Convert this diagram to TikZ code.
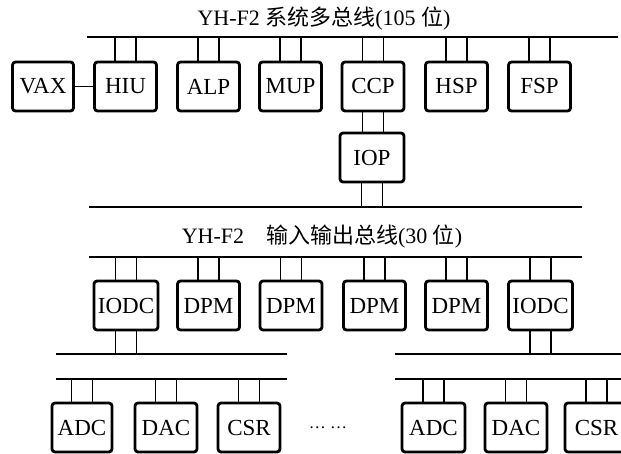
\documentclass[tikz,border=0pt]{standalone}
\usepackage{fontspec}
\setmainfont{Liberation Serif}
\newfontfamily\cjk{Noto Sans CJK SC}
\begin{document}
\begin{tikzpicture}[x=1pt,y=-1pt,
  unit/.style={draw, line width=2.8pt, rounded corners=3pt, minimum width=62pt, minimum height=49pt, inner sep=0pt, font=\fontsize{23}{26}\selectfont},
  busline/.style={line width=1.8pt},
  stub/.style={line width=1.8pt},
  ttl/.style={font=\fontsize{22}{26}\selectfont, inner sep=0pt}]
\useasboundingbox (0,0) rectangle (621,454);
% titles
\node[ttl] (t1) at (324,19) {YH-F2 {\cjk 系统多总线}(105 {\cjk 位})};
\node[ttl] (t2) at (322,237) {YH-F2\quad{\cjk 输入输出总线}(30 {\cjk 位})};
% bus coordinates
\coordinate (b1l) at (87,37);  \coordinate (b1r) at (618,37);
\coordinate (b2l) at (89,207); \coordinate (b2r) at (582,207);
\coordinate (b3l) at (89,257); \coordinate (b3r) at (582,257);
\coordinate (b4l) at (56,354); \coordinate (b4r) at (287,354);
\coordinate (b5l) at (56,379); \coordinate (b5r) at (287,379);
\coordinate (b6l) at (395,354); \coordinate (b6r) at (621,354);
\coordinate (b7l) at (395,379); \coordinate (b7r) at (621,379);
\foreach \a/\b in {b1l/b1r,b2l/b2r,b3l/b3r,b4l/b4r,b5l/b5r,b6l/b6r,b7l/b7r}
  \draw[busline] (\a) -- (\b);
% top row
\node[unit, minimum width=61pt] (vax) at (43,86.5) {VAX};
\node[unit] (hiu) at (125.5,86.5) {HIU};
\node[unit] (alp) at (208.5,86.5) {ALP};
\node[unit] (mup) at (290.5,86.5) {MUP};
\node[unit] (ccp) at (373,86.5) {CCP};
\node[unit] (hsp) at (456.5,86.5) {HSP};
\node[unit] (fsp) at (539.5,86.5) {FSP};
\node[unit, minimum width=64pt] (iop) at (372,157.5) {IOP};
% second row
\node[unit, minimum width=64pt] (iodca) at (126,305.5) {IODC};
\node[unit] (dpma) at (208.5,305.5) {DPM};
\node[unit] (dpmb) at (291,305.5) {DPM};
\node[unit] (dpmc) at (374.5,305.5) {DPM};
\node[unit] (dpmd) at (456.5,305.5) {DPM};
\node[unit, minimum width=64pt] (iodcb) at (540.5,305.5) {IODC};
% third row
\node[unit, minimum width=60pt] (adca) at (82,427.5) {ADC};
\node[unit] (daca) at (166,427.5) {DAC};
\node[unit] (csra) at (249,427.5) {CSR};
\node[unit, minimum width=63pt] (adcb) at (433.5,427.5) {ADC};
\node[unit] (dacb) at (516,427.5) {DAC};
\node[unit, minimum width=63pt] (csrb) at (596.5,427.5) {CSR};
\node[font=\fontsize{17}{18}\selectfont, inner sep=0pt] (dots) at (328,428) {\dots\ \dots};
% connectors
\draw[stub] (vax.east) -- (hiu.west);
\foreach \n in {hiu,alp,mup,ccp,hsp,fsp}
  \foreach \s in {-10.5,10.5}
    \draw[stub] ([xshift=\s pt]\n.north) -- ([xshift=\s pt]\n.north |- b1l);
\foreach \s in {-10.5,10.5} {
  \draw[stub] ([xshift=\s pt]ccp.south) -- ([xshift=\s pt]ccp.south |- iop.north);
  \draw[stub] ([xshift=\s pt]iop.south) -- ([xshift=\s pt]iop.south |- b2l);
  \draw[stub] ([xshift=\s pt]iodca.south) -- ([xshift=\s pt]iodca.south |- b4l);
  \draw[stub] ([xshift=\s pt]iodcb.south) -- ([xshift=\s pt]iodcb.south |- b6l);
}
\foreach \n in {iodca,dpma,dpmb,dpmc,dpmd,iodcb}
  \foreach \s in {-10.5,10.5}
    \draw[stub] ([xshift=\s pt]\n.north) -- ([xshift=\s pt]\n.north |- b3l);
\foreach \n in {adca,daca,csra}
  \foreach \s in {-10.5,10.5}
    \draw[stub] ([xshift=\s pt]\n.north) -- ([xshift=\s pt]\n.north |- b5l);
\foreach \n in {adcb,dacb,csrb}
  \foreach \s in {-10.5,10.5}
    \draw[stub] ([xshift=\s pt]\n.north) -- ([xshift=\s pt]\n.north |- b7l);
\end{tikzpicture}
\end{document}
